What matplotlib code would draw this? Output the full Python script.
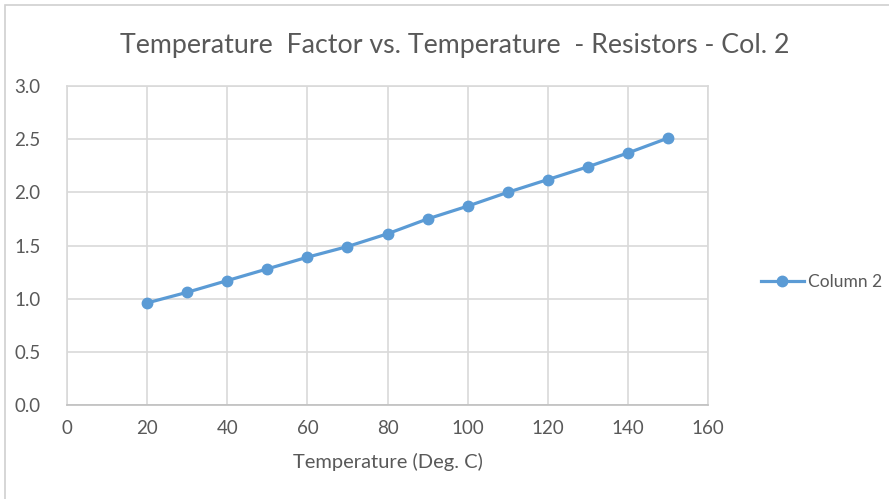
import numpy as np
import matplotlib.pyplot as plt
from matplotlib.patches import Rectangle

# temperature factor data, resistors col. 2
temps = [20, 30, 40, 50, 60, 70, 80, 90, 100, 110, 120, 130, 140, 150]
factor = [0.96, 1.06, 1.17, 1.28, 1.39, 1.49, 1.61, 1.75, 1.87, 2.00, 2.12, 2.24, 2.37, 2.51]
xticks = [0, 20, 40, 60, 80, 100, 120, 140, 160]
yticks = [0.0, 0.5, 1.0, 1.5, 2.0, 2.5, 3.0]

plt.rcParams['font.family'] = ['Lato', 'DejaVu Sans']
txt = '#595959'
grid = '#d9d9d9'
blue = '#5b9bd5'

W, H = 889, 499
fig = plt.figure(figsize=(W / 100, H / 100), dpi=100)

# chart frame
fig.patches.append(Rectangle((5 / W, -0.1), 1.2, 1 - 5 / H + 0.1, transform=fig.transFigure,
                             fill=False, edgecolor='#d0d0d0', lw=1.2))

ax = fig.add_axes([67 / W, 1 - 405 / H, (708 - 67) / W, (405 - 86) / H])
ax.plot(temps, factor, color=blue, lw=2.3, marker='o', ms=7.5, label='Column 2')

ax.set_xlim(0, 160)
ax.set_ylim(0, 3.0)
ax.set_xticks(xticks)
ax.set_yticks(yticks)
ax.set_yticklabels(['%.1f' % v for v in yticks])
ax.grid(True, color=grid, lw=1.2)
ax.set_axisbelow(True)
ax.tick_params(length=0, labelsize=13.5, labelcolor=txt)
ax.tick_params(axis='x', pad=11)
ax.tick_params(axis='y', pad=19)
for s in ax.spines.values():
    s.set_color(grid)
    s.set_linewidth(1.2)
ax.spines['bottom'].set_color('#bfbfbf')

ax.set_xlabel('Temperature (Deg. C)', fontsize=14.5, color=txt, labelpad=11)
fig.text(455 / W, 1 - 45 / H, 'Temperature  Factor vs. Temperature  - Resistors - Col. 2',
         ha='center', va='center', fontsize=19.3, color=txt)

leg = ax.legend(loc='center left', bbox_to_anchor=(745 / W, 1 - 282 / H),
                bbox_transform=fig.transFigure, frameon=False, fontsize=12.5,
                handlelength=2.5, handletextpad=0.2, labelcolor=txt)

fig.savefig('out.png', dpi=100)
